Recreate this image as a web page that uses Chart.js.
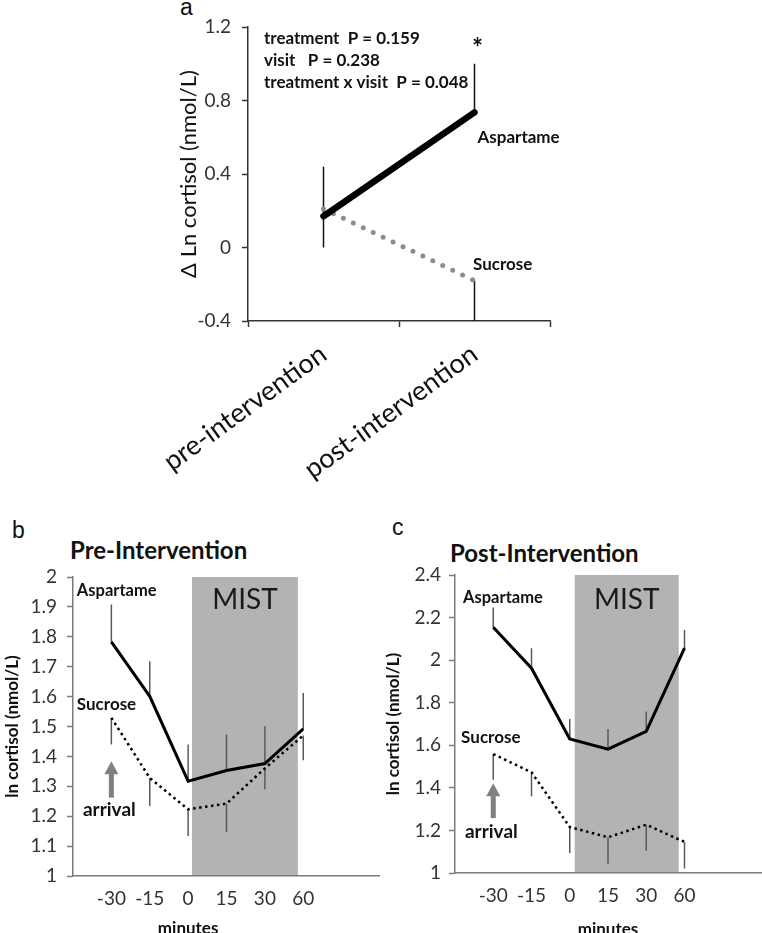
<!DOCTYPE html>
<html>
<head>
<meta charset="utf-8">
<script src="https://cdn.jsdelivr.net/npm/chart.js@4.4.1/dist/chart.umd.min.js"></script>
<style>
  html, body { margin: 0; padding: 0; background: #fff; }
  body { width: 762px; height: 933px; position: relative; overflow: hidden; font-family: Lato, sans-serif; }
  .box { position: absolute; }
  .box canvas { display: block; }
  .letter { position: absolute; font: 23px "Liberation Sans", Arial, sans-serif; line-height: 1; color: #111; }
  .ptitle { position: absolute; font: bold 24px Lato, sans-serif; line-height: 1; color: #111; }
</style>
</head>
<body>
<div class="letter" style="left:180px;top:-4px">a</div>
<div class="letter" style="left:12px;top:519px">b</div>
<div class="letter" style="left:392px;top:516px">c</div>
<div class="ptitle" style="left:70px;top:538px">Pre-Intervention</div>
<div class="ptitle" style="left:450px;top:541px">Post-Intervention</div>

<div class="box" style="left:100px;top:0;width:490px;height:500px"><canvas id="chartA"></canvas></div>
<div class="box" style="left:0;top:500px;width:380px;height:433px"><canvas id="chartB"></canvas></div>
<div class="box" style="left:380px;top:500px;width:382px;height:433px"><canvas id="chartC"></canvas></div>

<script>
// ---- panel a: change from baseline by visit ----
const visits = ['pre-intervention', 'post-intervention'];
const deltaAspartame = [0.17, 0.735];
const deltaAspartameSE = [0.27, 0.265];
const deltaSucrose = [0.21, -0.18];
const deltaSucroseSE = [0.21, 0.22];
const deltaTicks = [-0.4, 0, 0.4, 0.8, 1.2];

// ---- panels b / c: time course around the MIST ----
const minutes = ['-30', '-15', '0', '15', '30', '60'];
const preAspartame = [1.783, 1.601, 1.317, 1.353, 1.376, 1.492];
const preAspartameSE = [0.125, 0.117, 0.123, 0.12, 0.125, 0.12];
const preSucrose = [1.529, 1.328, 1.223, 1.242, 1.36, 1.47];
const preSucroseSE = [0.089, 0.094, 0.089, 0.095, 0.07, 0.083];
const preTicks = [1, 1.1, 1.2, 1.3, 1.4, 1.5, 1.6, 1.7, 1.8, 1.9, 2];

const postAspartame = [2.155, 1.962, 1.63, 1.582, 1.665, 2.056];
const postAspartameSE = [0.092, 0.094, 0.094, 0.095, 0.094, 0.086];
const postSucrose = [1.559, 1.473, 1.216, 1.168, 1.227, 1.146];
const postSucroseSE = [0.121, 0.113, 0.122, 0.125, 0.122, 0.125];
const postTicks = [1, 1.2, 1.4, 1.6, 1.8, 2, 2.2, 2.4];

Chart.defaults.font.family = 'Lato';
Chart.defaults.color = '#333';

// error bars, MIST band, arrow and text labels
const extras = {
  id: 'extras',
  beforeDatasetsDraw(chart, args, o) {
    const { ctx, chartArea: ca, scales: { x, y } } = chart;
    ctx.save();
    if (o.band) {
      const l = x.getPixelForValue(o.band.from), r = x.getPixelForValue(o.band.to);
      ctx.fillStyle = o.band.color;
      ctx.fillRect(l, ca.top, r - l, ca.bottom - ca.top - 1);
    }
    ctx.strokeStyle = o.barColor;
    ctx.lineWidth = o.barWidth;
    chart.data.datasets.forEach((ds, di) => {
      if (!ds.errors) return;
      chart.getDatasetMeta(di).data.forEach((pt, i) => {
        const v = ds.data[i];
        const val = typeof v === 'object' ? v.y : v;
        const end = y.getPixelForValue(val + ds.errDir * ds.errors[i]);
        ctx.beginPath();
        ctx.moveTo(pt.x, pt.y);
        ctx.lineTo(pt.x, end);
        ctx.stroke();
      });
    });
    ctx.restore();
  },
  afterDatasetsDraw(chart, args, o) {
    const { ctx, scales: { x, y } } = chart;
    ctx.save();
    if (o.arrow) {
      const ax = x.getPixelForValue(o.arrow.x);
      const tip = y.getPixelForValue(o.arrow.to), tail = y.getPixelForValue(o.arrow.from);
      ctx.fillStyle = '#808080';
      ctx.fillRect(ax - 2.5, tip + 10, 5, tail - tip - 10);
      ctx.beginPath();
      ctx.moveTo(ax, tip);
      ctx.lineTo(ax + 7, tip + 13);
      ctx.lineTo(ax - 7, tip + 13);
      ctx.closePath();
      ctx.fill();
    }
    (o.texts || []).forEach(t => {
      ctx.font = t.font;
      ctx.fillStyle = t.color || '#111';
      ctx.textAlign = t.align || 'left';
      ctx.textBaseline = 'middle';
      ctx.fillText(t.text, x.getPixelForValue(t.x), y.getPixelForValue(t.y));
    });
    ctx.restore();
  }
};

const base = {
  responsive: true,
  maintainAspectRatio: false,
  animation: false,
  events: [],
  elements: { point: { radius: 0 }, line: { tension: 0 } }
};

// pin the plot box: no extra room for the rotated labels' overhang
function noOverhang(s, h) {
  s.height = h;
  s.paddingLeft = 0;
  s.paddingRight = 0;
}

// ---- chart a ----
new Chart(document.getElementById('chartA'), {
  type: 'line',
  data: {
    labels: visits,
    datasets: [
      { label: 'Aspartame', data: deltaAspartame, errors: deltaAspartameSE, errDir: 1,
        borderColor: '#000', borderWidth: 6.5, borderCapStyle: 'round' },
      { label: 'Sucrose', data: deltaSucrose, errors: deltaSucroseSE, errDir: -1,
        borderColor: '#8c8c8c', borderWidth: 5, borderDash: [0, 11], borderCapStyle: 'round' }
    ]
  },
  options: {
    ...base,
    layout: { padding: { top: 27, right: 40, left: 0, bottom: 0 } },
    scales: {
      x: {
        offset: true,
        afterFit: s => noOverhang(s, 179),
        grid: { offset: true, drawOnChartArea: false, tickLength: 6, tickColor: '#333', tickWidth: 1.5 },
        border: { color: '#333', width: 1.5 },
        ticks: { minRotation: 36, maxRotation: 36, autoSkip: false, font: { size: 27 }, color: '#111', padding: 11 }
      },
      y: {
        min: -0.4, max: 1.2,
        afterBuildTicks: s => { s.ticks = deltaTicks.map(v => ({ value: v })); },
        afterFit: s => { s.width = 148; },
        grid: { drawOnChartArea: false, tickLength: 6, tickColor: '#333', tickWidth: 1.5 },
        border: { color: '#333', width: 1.5 },
        ticks: { callback: v => String(v), font: { size: 19 }, color: '#333', padding: 11 },
        title: { display: true, text: 'Δ Ln cortisol (nmol/L)', font: { size: 22 }, color: '#111', padding: { top: 76, bottom: 0 } }
      }
    },
    plugins: {
      legend: { display: false },
      tooltip: { enabled: false },
      extras: {
        barColor: '#111', barWidth: 1.5,
        texts: [
          { text: 'treatment  P = 0.159', x: -0.394, y: 1.135, font: 'bold 17px Lato' },
          { text: 'visit   P = 0.238', x: -0.394, y: 1.02, font: 'bold 17px Lato' },
          { text: 'treatment x visit  P = 0.048', x: -0.394, y: 0.9, font: 'bold 17px Lato' },
          { text: '*', x: 1.02, y: 1.08, font: 'bold 26px Lato', align: 'center' },
          { text: 'Aspartame', x: 1.02, y: 0.6, font: 'bold 17px Lato' },
          { text: 'Sucrose', x: 0.99, y: -0.09, font: 'bold 17px Lato' }
        ]
      }
    }
  },
  plugins: [extras]
});

// ---- charts b and c ----
function timeSeries(vals) { return vals.map((v, i) => ({ x: i + 1, y: v })); }

function timeChart(id, asp, aspSE, suc, sucSE, yTicks, yMax, sizes, notes) {
  return new Chart(document.getElementById(id), {
    type: 'line',
    data: {
      datasets: [
        { label: 'Aspartame', data: timeSeries(asp), errors: aspSE, errDir: 1,
          borderColor: '#000', borderWidth: 3 },
        { label: 'Sucrose', data: timeSeries(suc), errors: sucSE, errDir: -1,
          borderColor: '#000', borderWidth: 2.5, borderDash: [2.5, 3.5] }
      ]
    },
    options: {
      ...base,
      layout: { padding: { top: sizes.top, right: sizes.right, left: 0, bottom: 0 } },
      scales: {
        x: {
          type: 'linear', min: 0, max: 8,
          afterBuildTicks: s => { s.ticks = minutes.map((m, i) => ({ value: i + 1 })); },
          afterFit: s => noOverhang(s, sizes.xh),
          grid: { display: false, drawTicks: false },
          border: { color: '#7a7a7a', width: 1.5 },
          ticks: { callback: v => minutes[v - 1], autoSkip: false, maxRotation: 0, font: { size: 19 }, color: '#333', padding: 11 }
        },
        y: {
          min: 1, max: yMax,
          afterBuildTicks: s => { s.ticks = yTicks.map(v => ({ value: v })); },
          afterFit: s => { s.width = sizes.yw; },
          grid: { drawOnChartArea: false, tickLength: 6, tickColor: '#7a7a7a', tickWidth: 1.5 },
          border: { color: '#7a7a7a', width: 1.5 },
          ticks: { callback: v => String(v), font: { size: 19 }, color: '#333', padding: sizes.tp },
          title: { display: true, text: 'ln cortisol (nmol/L)', font: { size: 17, weight: 'bold' }, color: '#111', padding: { top: sizes.tt, bottom: 0 } }
        }
      },
      plugins: {
        legend: { display: false },
        tooltip: { enabled: false },
        extras: notes
      }
    },
    plugins: [extras]
  });
}

timeChart('chartB', preAspartame, preAspartameSE, preSucrose, preSucroseSE, preTicks, 2,
  { top: 77, right: 0, xh: 57, yw: 73, tp: 10, tt: 2 },
  {
    band: { from: 3.1, to: 5.86, color: '#b3b3b3' },
    barColor: '#5a5a5a', barWidth: 1.5,
    arrow: { x: 1, from: 1.262, to: 1.384 },
    texts: [
      { text: 'Aspartame', x: 0.1, y: 1.953, font: 'bold 16.5px Lato' },
      { text: 'Sucrose', x: 0.1, y: 1.575, font: 'bold 17px Lato' },
      { text: 'arrival', x: 0.26, y: 1.22, font: 'bold 19px Lato' },
      { text: 'MIST', x: 4.48, y: 1.923, font: '28px Lato', align: 'center', color: '#1a1a1a' },
      { text: 'minutes', x: 3, y: 0.826, font: 'bold 17px Lato', align: 'center' }
    ]
  });

timeChart('chartC', postAspartame, postAspartameSE, postSucrose, postSucroseSE, postTicks, 2.4,
  { top: 75, right: 1, xh: 60, yw: 75, tp: 8, tt: 3 },
  {
    band: { from: 3.13, to: 5.85, color: '#b3b3b3' },
    barColor: '#5a5a5a', barWidth: 1.5,
    arrow: { x: 1, from: 1.258, to: 1.422 },
    texts: [
      { text: 'Aspartame', x: 0.21, y: 2.292, font: 'bold 16.5px Lato' },
      { text: 'Sucrose', x: 0.16, y: 1.635, font: 'bold 17px Lato' },
      { text: 'arrival', x: 0.26, y: 1.194, font: 'bold 19px Lato' },
      { text: 'MIST', x: 4.49, y: 2.283, font: '28px Lato', align: 'center', color: '#1a1a1a' },
      { text: 'minutes', x: 4, y: 0.736, font: 'bold 17px Lato', align: 'center' }
    ]
  });
</script>
</body>
</html>
